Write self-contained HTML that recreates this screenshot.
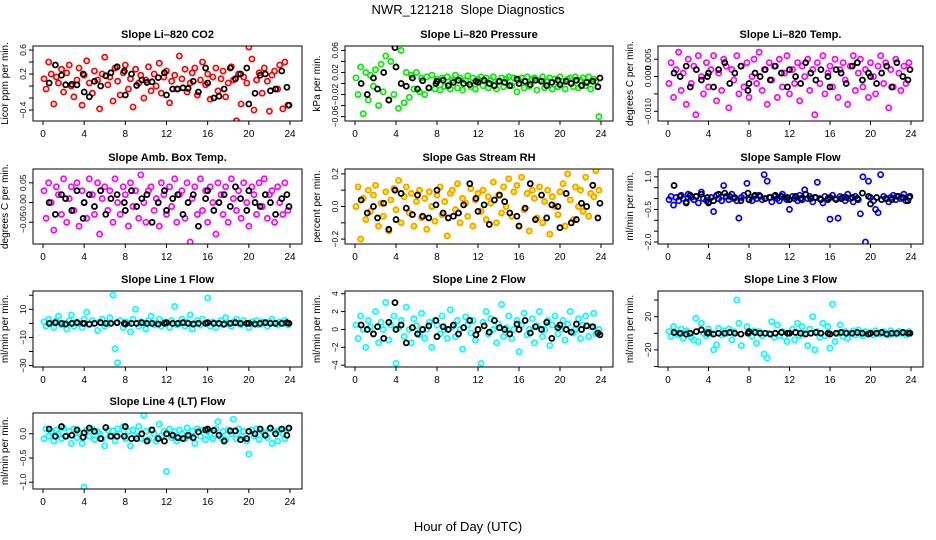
<!DOCTYPE html>
<html><head><meta charset="utf-8">
<style>
html,body{margin:0;padding:0;background:#fff;}
svg{display:block;font-family:"Liberation Sans",sans-serif;}
</style></head>
<body>
<svg id="chart" width="936" height="540" viewBox="0 0 936 540" xmlns="http://www.w3.org/2000/svg">
<text x="468" y="14" text-anchor="middle" font-size="13">NWR_121218&#160; Slope Diagnostics</text>
<text x="468" y="531" text-anchor="middle" font-size="13">Hour of Day (UTC)</text>
</svg>
<script>
const timesColored = [0.1,0.3,0.55,0.8,1.05,1.3,1.5,1.8,2.0,2.3,2.55,2.75,3.0,3.3,3.5,3.8,4.0,4.25,4.5,4.8,5.0,5.3,5.5,5.75,6.0,6.3,6.5,6.8,7.0,7.25,7.5,7.8,8.0,8.3,8.5,8.75,9.0,9.3,9.5,9.8,10.0,10.25,10.5,10.8,11.0,11.3,11.5,11.75,12.0,12.3,12.5,12.8,13.0,13.25,13.5,13.8,14.0,14.3,14.5,14.75,15.0,15.3,15.5,15.8,16.0,16.25,16.5,16.8,17.0,17.3,17.5,17.75,18.0,18.3,18.5,18.8,19.0,19.25,19.5,19.8,20.0,20.3,20.5,20.75,21.0,21.3,21.5,21.8,22.0,22.25,22.5,22.8,23.0,23.3,23.5,23.8];
const timesBlack = [0.6,1.2,1.8,2.2,2.8,3.3,3.9,4.0,4.5,5.0,5.6,6.1,6.6,7.2,7.9,8.0,8.6,9.1,9.6,10.1,10.6,11.2,11.8,12.0,12.6,13.1,13.6,14.1,14.6,15.1,15.8,16.0,16.6,17.1,17.6,18.2,18.7,19.2,19.8,20.0,20.6,21.1,21.6,22.1,22.6,23.2,23.7,23.9];
const xTicks = [0,4,8,12,16,20,24];

const co2Colored = [0.12,-0.05,0.4,0.2,-0.3,0.15,0.05,0.28,-0.1,0.22,0.35,0.0,-0.18,0.1,0.3,-0.32,0.18,0.42,0.05,-0.12,0.25,0.1,-0.38,0.2,0.48,0.02,0.15,-0.25,0.3,0.08,-0.15,0.22,0.35,-0.05,0.12,-0.35,0.28,0.05,0.18,-0.2,0.1,0.32,-0.08,0.2,0.0,0.38,-0.12,0.15,0.25,-0.28,0.08,0.18,-0.05,0.5,0.12,0.28,-0.1,0.05,0.22,0.3,-0.15,0.1,0.4,0.02,0.2,-0.22,0.15,0.3,-0.08,0.12,0.25,-0.18,0.05,0.32,0.1,-0.58,0.2,-0.3,0.15,0.05,0.65,0.45,-0.4,0.1,0.22,-0.12,0.3,0.08,-0.42,0.18,0.25,-0.05,0.35,-0.38,0.4,-0.32];
const co2Black = [0.05,0.35,0.18,0.02,0.03,0.02,0.2,-0.1,-0.18,0.08,0.0,0.17,0.22,0.32,0.25,-0.15,0.2,0.01,0.1,0.06,0.07,0.14,0.22,-0.15,-0.05,-0.05,-0.03,-0.04,0.08,-0.1,0.3,0.05,-0.2,-0.17,-0.05,0.3,0.12,0.2,0.3,-0.3,-0.12,0.18,0.2,-0.08,-0.05,0.25,-0.02,-0.32];

const presColored = [0.01,-0.02,0.03,-0.055,0.02,-0.03,0.015,-0.005,0.025,-0.04,0.035,-0.015,0.05,-0.03,0.04,-0.02,0.03,-0.045,0.06,-0.035,0.02,-0.025,0.015,-0.01,0.02,-0.015,0.01,-0.02,0.012,-0.008,0.015,-0.01,0.008,-0.012,0.01,-0.005,0.012,-0.01,0.006,0.015,-0.008,0.01,-0.012,0.005,0.014,-0.006,0.01,-0.01,0.008,0.012,-0.004,0.01,-0.008,0.006,0.012,-0.01,0.004,0.01,-0.006,0.008,0.012,-0.004,0.01,-0.015,0.006,0.01,-0.008,0.012,-0.005,0.008,0.01,-0.012,0.006,0.012,-0.008,0.004,0.01,-0.01,0.008,-0.006,0.012,0.004,-0.01,0.008,0.01,-0.006,0.012,-0.008,0.006,0.01,-0.004,0.012,-0.01,0.008,0.004,-0.06];
const presBlack = [0.0,-0.02,0.01,-0.01,0.02,-0.03,0.065,0.03,0.0,-0.005,0.01,-0.01,0.005,-0.008,0.0,0.004,0.006,-0.004,0.002,0.006,0.0,-0.002,0.004,0.002,0.006,0.0,-0.004,0.004,0.002,-0.004,0.008,0.0,0.004,-0.002,0.006,0.004,-0.004,0.002,0.006,-0.002,0.004,0.0,0.006,-0.004,0.002,0.004,-0.006,0.01];

const tempColored = [-0.002,0.004,-0.006,0.002,0.007,-0.004,0.001,-0.008,0.005,-0.002,0.003,-0.011,0.006,0.0,-0.005,0.004,-0.003,0.002,0.006,-0.007,0.001,-0.004,0.005,0.003,-0.009,0.002,-0.001,0.006,-0.005,0.003,-0.003,0.004,-0.006,0.0,0.005,-0.002,0.007,-0.004,0.002,-0.008,0.004,-0.001,0.003,-0.006,0.005,-0.003,0.001,0.006,-0.005,0.002,-0.002,0.004,-0.007,0.003,0.0,0.005,-0.004,0.002,-0.011,0.004,-0.002,0.006,-0.005,0.001,0.003,-0.003,0.005,-0.006,0.002,0.004,-0.001,-0.008,0.003,0.006,-0.004,0.001,0.005,-0.003,0.002,-0.006,0.004,0.0,-0.005,0.003,0.006,-0.002,0.004,-0.009,0.002,-0.003,0.005,0.001,-0.004,0.003,-0.002,0.004];
const tempBlack = [0.001,0.0,0.003,-0.003,0.002,-0.001,0.0,0.001,-0.003,0.002,0.004,-0.002,0.001,0.003,-0.004,-0.002,0.001,0.0,0.002,-0.001,0.003,0.001,-0.003,0.002,0.0,-0.002,0.004,0.001,-0.001,0.002,0.0,-0.003,0.002,0.001,-0.002,0.003,0.004,-0.001,0.001,0.0,-0.002,0.001,0.003,-0.003,0.004,0.0,-0.001,0.002];

const ambColored = [0.03,-0.04,0.05,0.0,-0.07,0.04,0.02,-0.03,0.06,-0.05,0.01,0.04,-0.02,0.05,-0.06,0.03,0.0,-0.04,0.06,0.02,-0.03,0.05,-0.08,0.01,0.04,-0.02,0.03,-0.05,0.06,0.0,-0.03,0.04,0.02,-0.06,0.05,-0.01,0.03,-0.04,0.07,0.0,-0.05,0.03,0.04,-0.02,0.01,-0.06,0.05,0.02,-0.03,0.04,-0.01,0.06,-0.05,0.02,0.03,-0.04,0.05,-0.1,0.01,0.04,-0.03,0.06,-0.02,0.03,-0.05,0.04,0.0,-0.08,0.05,0.02,-0.03,0.04,-0.05,0.06,0.01,-0.02,0.03,-0.04,0.05,0.0,-0.06,0.04,0.02,-0.03,0.05,-0.01,0.06,-0.04,0.02,0.03,-0.05,0.04,0.0,-0.03,0.05,-0.02];
const ambBlack = [0.0,-0.03,0.02,0.01,-0.02,0.03,-0.04,0.0,0.02,-0.01,0.03,-0.03,0.01,0.02,0.0,-0.02,0.03,-0.01,0.01,0.02,-0.05,0.0,0.03,-0.02,0.01,0.02,-0.03,0.0,0.02,-0.06,0.01,0.03,-0.02,0.0,0.02,-0.01,0.04,0.01,-0.02,0.03,0.0,-0.01,0.02,0.0,-0.03,0.01,0.02,-0.01];

const rhColored = [0.0,0.12,-0.2,0.05,-0.08,0.1,-0.03,0.07,0.13,-0.12,0.02,-0.06,0.09,-0.15,0.04,0.11,-0.02,0.16,-0.1,0.06,0.12,-0.04,0.08,-0.12,0.03,0.1,-0.07,0.05,-0.14,0.09,0.0,-0.09,0.07,0.12,-0.05,0.03,-0.18,0.08,0.1,-0.02,0.14,-0.1,0.05,0.02,-0.06,0.11,-0.12,0.04,0.08,-0.03,0.1,-0.08,0.06,0.02,0.15,-0.1,0.07,-0.04,0.12,0.0,0.17,-0.06,0.09,0.13,-0.12,0.18,-0.02,0.08,-0.15,0.1,0.05,-0.07,0.12,-0.1,0.03,0.1,-0.17,0.06,0.0,-0.05,0.09,0.14,-0.12,0.2,0.04,-0.08,0.12,0.0,0.1,-0.03,0.18,-0.06,0.08,0.06,0.22,0.1];
const rhBlack = [0.04,-0.04,0.0,-0.07,0.02,-0.14,0.1,-0.08,0.08,-0.01,-0.05,0.07,-0.06,-0.07,0.01,0.1,-0.04,-0.07,-0.06,-0.04,0.01,0.14,0.05,-0.03,0.01,-0.11,0.04,0.07,0.03,-0.04,-0.06,-0.12,-0.01,0.14,-0.08,0.07,-0.07,0.01,0.0,-0.13,0.08,-0.1,-0.08,0.02,0.0,0.13,-0.07,0.02];

const flowColored = [-0.05,0.1,-0.3,0.05,-0.1,0.15,0.0,-0.15,0.2,0.05,-0.05,0.1,-0.2,0.3,0.0,-0.1,-0.15,0.05,-0.6,0.15,0.0,-0.1,0.6,0.1,-0.05,0.2,0.0,-0.1,-0.9,0.05,0.15,0.7,-0.05,-0.1,0.1,0.0,0.15,-0.05,1.1,0.8,0.05,-0.15,0.1,0.0,-0.1,0.2,0.05,-0.05,-0.5,0.1,0.0,-0.1,0.15,-0.05,0.4,0.0,0.1,-0.15,0.05,0.75,0.0,-0.2,0.1,-0.05,-0.95,0.15,0.0,-0.9,0.1,0.05,-0.1,0.2,0.0,-0.15,0.1,-0.05,-0.7,1.0,-2.0,0.8,0.05,-0.1,-0.5,-0.65,1.1,0.1,0.0,-0.15,0.05,0.15,-0.05,0.1,0.0,0.2,-0.1,0.05];
const flowBlack = [0.6,0.1,-0.2,0.15,0.1,0.2,0.05,-0.2,-0.1,0.2,0.25,0.1,0.05,-0.1,0.25,-0.05,0.15,0.1,0.0,0.05,0.15,0.1,0.05,-0.05,0.1,0.0,0.2,0.0,0.05,-0.05,0.0,0.05,-0.05,0.0,0.05,0.05,0.0,0.25,0.1,-0.25,0.05,-0.05,0.0,-0.05,0.1,0.05,-0.1,0.1];

const line1Colored = [1,-2,3,0,-3,2,5,-1,0,-4,2,6,-2,1,0,-3,3,8,-1,2,0,-5,1,3,-2,0,4,20,-18,-28,2,-3,1,0,-6,3,10,-2,1,0,-4,2,5,-1,0,3,-2,1,0,-3,2,12,-1,0,3,-2,1,6,-4,0,2,-1,3,0,18,-2,1,-3,0,2,-1,4,0,-2,1,3,0,-1,2,0,-3,1,0,2,-1,1,0,-2,1,3,0,-1,1,0,2,-1];
const line1Black = [0,0.5,0,-0.5,0,0.5,0,0,-0.5,0,0.5,0,0,0.5,0,-0.5,0,0,0.5,0,0,-0.5,0,0.5,0,0,0.5,0,-0.5,0,0,0.5,0,0,-0.5,0,0.5,0,0,0,-0.5,0,0.5,0,0,0,0.5,0];

const line2Colored = [0.5,-1.0,1.5,0.0,-2.0,1.0,0.3,-0.5,2.0,-1.5,0.8,0.0,3.0,-1.2,0.5,1.5,-3.8,0.2,1.0,-0.8,2.5,0.0,-1.5,1.2,0.4,-0.6,1.8,-1.0,0.0,0.8,-2.0,1.0,0.5,-0.5,1.5,0.0,-1.0,2.2,0.3,-0.8,1.0,0.0,-2.2,1.4,0.5,-0.4,1.0,-1.2,0.0,-3.8,0.8,2.0,-0.5,1.2,0.0,-1.5,0.6,2.8,-0.8,0.2,1.5,-1.0,0.0,1.0,-2.5,0.5,1.8,-0.6,0.0,1.2,-1.5,0.4,2.0,-0.8,0.0,1.0,-1.8,0.5,1.5,-0.5,0.0,1.0,-1.2,0.6,2.0,-0.4,0.0,1.2,-1.0,0.5,1.5,-0.8,0.3,1.8,-0.5,0.0];
const line2Black = [0.5,0.0,-0.5,0.3,-1.0,0.8,3.0,0.0,0.5,-1.5,0.2,-0.5,0.0,0.4,1.0,-0.8,0.3,0.0,0.5,-0.5,0.2,1.0,-0.6,0.0,0.4,-0.3,1.0,0.2,0.0,-0.5,0.6,0.0,1.0,-0.4,0.3,0.0,0.8,-1.0,0.2,0.5,0.0,-0.3,0.6,0.0,0.4,0.3,-0.4,-0.6];

const line3Colored = [2,-4,8,0,-2,5,-6,3,1,-5,-8,18,-10,12,0,-3,5,0,-20,-14,6,-2,3,0,5,-8,2,40,12,-15,-45,8,0,-4,3,-12,2,-3,-25,-30,0,14,-5,10,-3,2,-4,-10,0,5,-8,12,-3,8,0,-15,5,20,-20,2,-5,12,-3,8,-18,35,-10,0,10,-4,2,-6,0,3,-2,4,0,-3,2,0,1,-2,3,0,-1,2,0,-2,3,0,-1,2,0,1,-2,2];
const line3Black = [1,0,-1,0,2,4,0,1,-1,0,0,1,0,-1,0,2,1,0,0,-1,0,1,0,0,1,0,-1,0,1,0,0,-1,0,1,0,0,1,0,-1,0,0,1,-1,0,0,1,0,0];

const line4Colored = [-0.1,0.1,-0.05,0.05,-0.15,0.08,0.0,-0.1,0.12,-0.05,0.05,-0.2,0.1,-0.08,0.03,-0.2,-1.1,0.08,-0.05,0.1,-0.12,0.05,0.0,-0.1,-0.25,0.08,-0.05,0.06,-0.15,0.1,0.0,0.15,-0.1,0.05,-0.25,0.08,-0.05,0.15,-0.1,0.38,0.05,-0.12,0.08,0.0,-0.15,0.2,-0.05,0.05,-0.78,0.1,-0.08,0.05,-0.15,0.08,0.0,-0.1,0.12,-0.05,0.05,-0.2,0.1,-0.05,0.08,-0.12,0.05,0.0,-0.1,0.1,0.25,-0.08,0.05,-0.12,0.08,0.0,0.3,-0.1,0.1,-0.05,0.05,-0.15,-0.42,0.08,-0.05,0.1,-0.12,0.05,0.0,-0.08,0.1,-0.2,0.05,-0.15,0.08,0.0,-0.1,0.1];
const line4Black = [0.1,-0.05,0.15,-0.05,-0.03,0.08,-0.07,0.02,0.12,0.05,-0.1,0.13,-0.05,-0.05,-0.05,0.15,-0.1,-0.1,0.0,-0.15,0.08,-0.1,-0.15,0.0,-0.03,-0.08,-0.1,-0.03,-0.08,0.04,0.08,0.1,0.07,-0.03,-0.15,0.06,0.06,-0.12,-0.1,0.05,0.0,0.1,-0.03,0.12,0.0,0.1,-0.03,0.12];

const panels = [
 {name:'co2', title:'Slope Li\u2013820 CO2', ylab:'Licor ppm per min.', col:0,row:0, ylim:[-0.583,0.667], ticks:[-0.4,-0.2,0,0.2,0.4,0.6], labels:[['0.6',0.6],['0.2',0.2],['\u22120.4',-0.4]], color:'#ff0000', c:co2Colored, b:co2Black},
 {name:'pressure', title:'Slope Li\u2013820 Pressure', ylab:'kPa per min.', col:1,row:0, ylim:[-0.068,0.068], ticks:[-0.06,-0.04,-0.02,0,0.02,0.04,0.06], labels:[['0.06',0.06],['0.02',0.02],['\u22120.02',-0.02],['\u22120.06',-0.06]], color:'#00ee00', c:presColored, b:presBlack},
 {name:'temp', title:'Slope Li\u2013820 Temp.', ylab:'degrees C per min.', col:2,row:0, ylim:[-0.0128,0.0088], ticks:[-0.01,-0.005,0,0.005], labels:[['0.005',0.005],['0.000',0],['\u22120.010',-0.01]], color:'#ff00ff', c:tempColored, b:tempBlack},
 {name:'amb-box-temp', title:'Slope Amb. Box Temp.', ylab:'degrees C per min.', col:0,row:1, ylim:[-0.105,0.085], ticks:[-0.05,0,0.05], labels:[['0.05',0.05],['0.00',0],['\u22120.05',-0.05]], color:'#ff00ff', c:ambColored, b:ambBlack},
 {name:'gas-rh', title:'Slope Gas Stream RH', ylab:'percent per min.', col:1,row:1, ylim:[-0.23,0.23], ticks:[-0.2,-0.1,0,0.1,0.2], labels:[['0.2',0.2],['0.0',0],['\u22120.2',-0.2]], color:'#ff9900', c:rhColored, b:rhBlack},
 {name:'sample-flow', title:'Slope Sample Flow', ylab:'ml/min per min.', col:2,row:1, ylim:[-2.09,1.36], ticks:[-2,-1.5,-1,-0.5,0,0.5,1], labels:[['1.0',1],['\u22120.5',-0.5],['\u22122.0',-2]], color:'#0000ff', c:flowColored, b:flowBlack},
 {name:'line1-flow', title:'Slope Line 1 Flow', ylab:'ml/min per min.', col:0,row:2, ylim:[-31,23], ticks:[-30,-20,-10,0,10,20], labels:[['10',10],['\u221210',-10],['\u221230',-30]], color:'#00ffff', c:line1Colored, b:line1Black},
 {name:'line2-flow', title:'Slope Line 2 Flow', ylab:'ml/min per min.', col:1,row:2, ylim:[-4.2,4.3], ticks:[-4,-2,0,2,4], labels:[['4',4],['2',2],['0',0],['\u22122',-2],['\u22124',-4]], color:'#00ffff', c:line2Colored, b:line2Black},
 {name:'line3-flow', title:'Slope Line 3 Flow', ylab:'ml/min per min.', col:2,row:2, ylim:[-40.6,50.9], ticks:[-40,-20,0,20,40], labels:[['20',20],['\u221220',-20]], color:'#00ffff', c:line3Colored, b:line3Black},
 {name:'line4-flow', title:'Slope Line 4 (LT) Flow', ylab:'ml/min per min.', col:0,row:3, ylim:[-1.14,0.43], ticks:[-1,-0.5,0], labels:[['0.0',0],['\u22120.5',-0.5],['\u22121.0',-1]], color:'#00ffff', c:line4Colored, b:line4Black}
];

const NS='http://www.w3.org/2000/svg';
const svg=document.getElementById('chart');
const boxL=[33,345,658], boxR=[302,613,923], boxT=[46,169,291,413], boxB=[121,244,367,489];
function mk(tag,attrs,parent){const e=document.createElementNS(NS,tag);for(const k in attrs)e.setAttribute(k,attrs[k]);parent.appendChild(e);return e;}

panels.forEach(p=>{
  const L=boxL[p.col],R=boxR[p.col],T=boxT[p.row],B=boxB[p.row];
  const g=mk('g',{},svg);
  
  
  const xs=h=>L+10+(R-L-22)*h/24;
  const ys=v=>B-(v-p.ylim[0])/(p.ylim[1]-p.ylim[0])*(B-T);
  const clip='clip-'+p.name;
  const cp=mk('clipPath',{id:clip},g);mk('rect',{x:L,y:T,width:R-L,height:B-T},cp);
  const t=mk('text',{x:(L+R)/2,y:T-8,'text-anchor':'middle','font-size':'11','font-weight':'bold'},g);
  t.textContent=p.title;
  
  
  const yl=mk('text',{x:0,y:0,'text-anchor':'middle','font-size':'10',transform:`translate(${L-25},${(T+B)/2}) rotate(-90)`},g);
  yl.textContent=p.ylab;
  
  
  const pts=mk('g',{'clip-path':`url(#${clip})`},g);
  
  
  const n=Math.min(timesColored.length,p.c.length);
  for(let i=0;i<n;i++){
    const c=mk('circle',{cx:xs(timesColored[i]),cy:ys(p.c[i]),r:2.6,fill:p.name==='gas-rh'?'#ffff00':'none',stroke:p.color,'stroke-width':1.7},pts);
    
    
  }
  const nb=Math.min(timesBlack.length,p.b.length);
  for(let i=0;i<nb;i++){
    const c=mk('circle',{cx:xs(timesBlack[i]),cy:ys(p.b[i]),r:2.5,fill:'none',stroke:'#000','stroke-width':1.8},pts);
    
    
  }
  const box=mk('rect',{x:L,y:T,width:R-L,height:B-T,fill:'none',stroke:'#000','stroke-width':1},g);
  
  
  const xa=mk('g',{},g);
  
  
  xTicks.forEach(h=>{
    mk('line',{x1:xs(h),x2:xs(h),y1:B,y2:B+4,stroke:'#000'},xa);
    const tl=mk('text',{x:xs(h),y:B+16,'text-anchor':'middle','font-size':'10'},xa);
    tl.textContent=h;
  });
  const ya=mk('g',{},g);
  
  
  p.ticks.forEach(v=>{mk('line',{x1:L-4,x2:L,y1:ys(v),y2:ys(v),stroke:'#000'},ya);});
  p.labels.forEach(([s,v])=>{
    const tl=mk('text',{x:0,y:0,'text-anchor':'middle','font-size':'8.5',transform:`translate(${L-7},${ys(v)}) rotate(-90)`},ya);
    tl.textContent=s;
  });
});
</script>
</body></html>
